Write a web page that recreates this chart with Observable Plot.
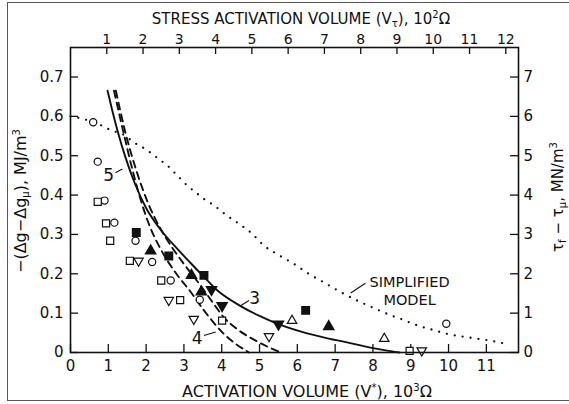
<!DOCTYPE html>
<html>
<head>
<meta charset="utf-8">
<script src="https://cdn.jsdelivr.net/npm/d3@7"></script>
<script src="https://cdn.jsdelivr.net/npm/@observablehq/plot@0.6"></script>
<style>
  body { margin: 0; background: #fff; }
  #wrap { position: relative; width: 569px; height: 404px; overflow: hidden; }
  #edge { position: absolute; left: 7px; top: 2px; width: 620px; height: 397px;
          border-left: 1.5px solid #555; border-top: 1.5px solid #555; border-bottom: 1.5px solid #555; }
  #chart { position: absolute; left: 0; top: 0; }
</style>
</head>
<body>
<div id="wrap"><div id="edge"></div><div id="chart"></div></div>
<script>
// Axis ticks
const bottomTicks = [0, 1, 2, 3, 4, 5, 6, 7, 8, 9, 10, 11];
const topTicks = [1, 2, 3, 4, 5, 6, 7, 8, 9, 10, 11, 12];
const leftTicks = [0, 0.1, 0.2, 0.3, 0.4, 0.5, 0.6, 0.7];
const bottomMax = 11.85;   // activation volume V*, 10^3 Ω, at the right edge
const topMax = 12.35;      // stress activation volume Vτ, 10^2 Ω, at the right edge
const yMax = 0.775;        // −(Δg−Δgμ), MJ/m³, at the top edge
const rightFactor = 10;    // τf − τμ scales as 10× the left axis

// Model curves: [V*, −(Δg−Δgμ)]
const curve3 = [[0.98,0.665],[1.1,0.617],[1.24,0.565],[1.45,0.497],[1.7,0.43],[2.0,0.367],[2.4,0.31],
  [2.82,0.264],[3.17,0.228],[3.53,0.192],[3.88,0.158],[4.5,0.118],[5.0,0.093],[5.4,0.076],[6.1,0.053],
  [6.8,0.036],[7.4,0.024],[7.9,0.013],[8.3,0.006],[8.7,0]];
const curve4 = [[1.15,0.665],[1.4,0.56],[1.65,0.46],[1.85,0.39],[2.1,0.32],[2.4,0.26],[2.8,0.2],
  [3.17,0.155],[3.53,0.107],[4.06,0.047],[4.72,0]];
const curve5 = [[1.2,0.665],[1.45,0.56],[1.75,0.46],[2.05,0.38],[2.35,0.32],[2.7,0.265],[3.0,0.225],
  [3.44,0.17],[3.8,0.122],[4.05,0.09],[4.4,0.06],[4.9,0.03],[5.56,0]];
const simplified = [[0,0.6],[0.35,0.593],[0.84,0.576],[1.06,0.565],[1.37,0.555],[1.72,0.531],[1.98,0.517],
  [2.34,0.491],[2.56,0.475],[2.87,0.445],[3.09,0.424],[3.31,0.407],[3.53,0.39],[3.79,0.374],[4.15,0.347],
  [4.41,0.33],[4.8,0.302],[5.11,0.272],[5.5,0.248],[5.91,0.225],[6.3,0.2],[6.7,0.178],[7.1,0.156],
  [7.58,0.132],[8.0,0.114],[8.38,0.098],[8.8,0.083],[9.17,0.069],[9.6,0.057],[9.97,0.047],[10.4,0.04],
  [10.76,0.035],[11.1,0.03],[11.42,0.024]];

// Measurements: [V*, −(Δg−Δgμ)]
const openCircles = [[0.6,0.585],[0.72,0.485],[0.9,0.386],[1.16,0.33],[1.72,0.284],[2.16,0.23],
  [2.65,0.183],[3.42,0.134],[9.94,0.073]];
const openSquares = [[0.72,0.383],[0.94,0.328],[1.05,0.284],[1.57,0.233],[2.4,0.183],[2.9,0.133],
  [4.01,0.081],[8.97,0.004]];
const openUp = [[5.86,0.081],[8.3,0.035]];
const openDown = [[1.8,0.233],[2.6,0.133],[3.26,0.085],[5.25,0.041],[9.29,0.005]];
const filledSquares = [[1.74,0.305],[2.6,0.245],[3.53,0.196],[6.22,0.107]];
const filledUp = [[2.12,0.258],[3.2,0.196],[3.46,0.154],[6.83,0.066]];
const filledDown = [[3.73,0.16],[4.01,0.119],[5.5,0.072]];

// Curve labels and leader lines
const labelText = ["5", "3", "4", "SIMPLIFIED\nMODEL"];
const labelX = [1.01, 4.87, 3.35, 8.97];
const labelY = [0.452, 0.14, 0.039, 0.158];
const labelSize = [17, 17, 17, 14.5];
const leaders = [
  {x1: 1.19, y1: 0.457, x2: 1.37, y2: 0.466},
  {x1: 4.72, y1: 0.132, x2: 4.5, y2: 0.119},
  {x1: 3.53, y1: 0.043, x2: 3.84, y2: 0.052},
  {x1: 7.8, y1: 0.176, x2: 7.41, y2: 0.151}
];

const W = 569, H = 404, mL = 70, mR = 51, mT = 47, mB = 52;
const fw = W - mL - mR, fh = H - mT - mB;
const ink = "#111";
const font = "'DejaVu Sans', 'Liberation Sans', sans-serif";
const toTop = v => v * bottomMax / topMax;
const pts = a => a.map(([x, y]) => ({x, y}));
const labels = labelText.map((t, i) => ({t, x: labelX[i], y: labelY[i], s: labelSize[i]}));

const plot = Plot.plot({
  width: W, height: H,
  marginLeft: mL, marginRight: mR, marginTop: mT, marginBottom: mB,
  x: {domain: [0, bottomMax]},
  y: {domain: [0, yMax]},
  style: {fontFamily: font, fontSize: "15px", color: ink, background: "transparent", overflow: "visible"},
  marks: [
    // inward tick marks on all four sides
    Plot.tickX(bottomTicks, {x: d => d, insetTop: fh - 8, stroke: ink, strokeWidth: 1.3}),
    Plot.tickX(topTicks.map(toTop), {x: d => d, insetBottom: fh - 7, stroke: ink, strokeWidth: 1.3}),
    Plot.tickY(leftTicks, {y: d => d, insetRight: fw - 8, stroke: ink, strokeWidth: 1.3}),
    Plot.tickY(leftTicks, {y: d => d, insetLeft: fw - 8, stroke: ink, strokeWidth: 1.3}),
    Plot.axisX(bottomTicks, {anchor: "bottom", tickSize: 0, tickPadding: 8, label: null, tickFormat: d => String(d)}),
    Plot.axisX(topTicks.map(toTop), {anchor: "top", tickSize: 0, tickPadding: 4, label: null, fontSize: 14,
      tickFormat: d => String(Math.round(d * topMax / bottomMax))}),
    Plot.axisY(leftTicks, {anchor: "left", tickSize: 0, tickPadding: 7, label: null,
      tickFormat: d => d === 0 ? "0" : d3.format(".1f")(d)}),
    Plot.axisY(leftTicks, {anchor: "right", tickSize: 0, tickPadding: 5, label: null,
      tickFormat: d => String(Math.round(d * rightFactor))}),
    // model curves
    Plot.line(simplified, {x: d => d[0], y: d => d[1], curve: "monotone-x", stroke: ink,
      strokeWidth: 2.3, strokeDasharray: "0,8", strokeLinecap: "round"}),
    Plot.line(curve3, {x: d => d[0], y: d => d[1], curve: "monotone-x", stroke: ink, strokeWidth: 1.9}),
    Plot.line(curve4, {x: d => d[0], y: d => d[1], curve: "monotone-x", stroke: ink, strokeWidth: 1.9, strokeDasharray: "7,5"}),
    Plot.line(curve5, {x: d => d[0], y: d => d[1], curve: "monotone-x", stroke: ink, strokeWidth: 1.9, strokeDasharray: "7,5"}),
    // measurements
    Plot.dot(pts(openCircles), {x: "x", y: "y", symbol: "circle", r: 3.6, stroke: ink, strokeWidth: 1.2, fill: "white"}),
    Plot.dot(pts(openSquares), {x: "x", y: "y", symbol: "square", r: 4, stroke: ink, strokeWidth: 1.2, fill: "white"}),
    Plot.dot(pts(openUp), {x: "x", y: "y", symbol: "triangle", r: 3.5, stroke: ink, strokeWidth: 1.2, fill: "white"}),
    Plot.dot(pts(openDown), {x: "x", y: "y", symbol: "triangle", rotate: 180, r: 3.5, stroke: ink, strokeWidth: 1.2, fill: "white"}),
    Plot.dot(pts(filledSquares), {x: "x", y: "y", symbol: "square", r: 4.2, fill: ink, stroke: ink}),
    Plot.dot(pts(filledUp), {x: "x", y: "y", symbol: "triangle", r: 3.7, fill: ink, stroke: ink}),
    Plot.dot(pts(filledDown), {x: "x", y: "y", symbol: "triangle", rotate: 180, r: 3.7, fill: ink, stroke: ink}),
    // labels
    Plot.link(leaders, {x1: "x1", y1: "y1", x2: "x2", y2: "y2", stroke: ink, strokeWidth: 1.1}),
    Plot.text(labels, {x: "x", y: "y", text: "t", fontSize: d => d.s, lineHeight: 1.2, fill: ink}),
    Plot.frame({stroke: ink, strokeWidth: 1.6})
  ]
});

// Axis titles with sub/superscripts
const svg = d3.select(plot);
function title(g, parts) {
  for (const [s, kind] of parts) {
    const t = g.append("tspan").text(s);
    if (kind === "sub") t.attr("font-size", 10).attr("dy", 3);
    else if (kind === "sup") t.attr("font-size", 10).attr("dy", -6);
    else if (kind === "subEnd") t.attr("dy", -3);
    else if (kind === "supEnd") t.attr("dy", 6);
  }
}
const tg = svg.append("g").attr("fill", ink).attr("font-family", font);
title(tg.append("text").attr("font-size", 15).attr("x", 301).attr("y", 24).attr("text-anchor", "middle"),
  [["STRESS ACTIVATION VOLUME (V"], ["τ", "sub"], ["), 10", "subEnd"], ["2", "sup"], ["Ω", "supEnd"]]);
title(tg.append("text").attr("font-size", 16).attr("x", 307).attr("y", 397).attr("text-anchor", "middle"),
  [["ACTIVATION VOLUME (V"], ["*", "sup"], ["), 10", "supEnd"], ["3", "sup"], ["Ω", "supEnd"]]);
title(tg.append("text").attr("font-size", 16).attr("text-anchor", "middle").attr("transform", "translate(26,201) rotate(-90)"),
  [["−(Δg−Δg"], ["μ", "sub"], ["), MJ/m", "subEnd"], ["3", "sup"]]);
title(tg.append("text").attr("font-size", 15).attr("text-anchor", "middle").attr("transform", "translate(563,197) rotate(-90)"),
  [["τ"], ["f", "sub"], [" − τ", "subEnd"], ["μ", "sub"], [", MN/m", "subEnd"], ["3", "sup"]]);

document.getElementById("chart").append(plot);
</script>
</body>
</html>
